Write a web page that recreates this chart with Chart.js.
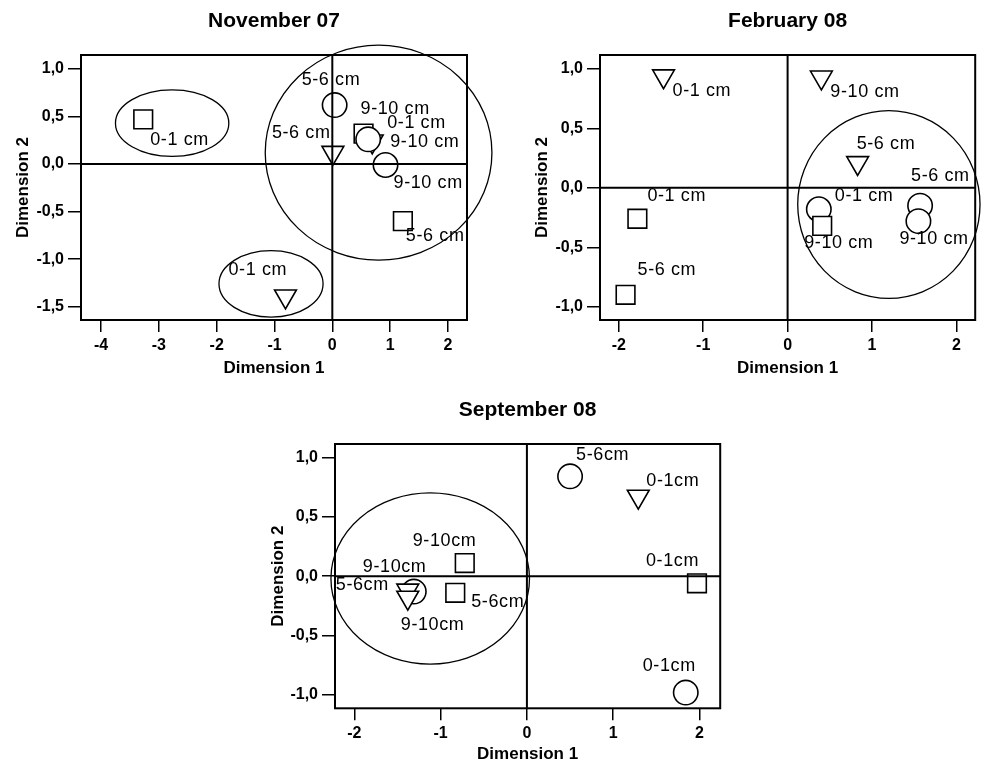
<!DOCTYPE html>
<html>
<head>
<meta charset="utf-8">
<title>Dimension plots</title>
<script src="https://cdn.jsdelivr.net/npm/chart.js@4.4.1/dist/chart.umd.min.js"></script>
<style>
  body { margin: 0; background: #FFF; width: 990px; height: 765px; overflow: hidden; position: relative; }
  canvas { position: absolute; }
</style>
</head>
<body>
<canvas id="chartNov" width="505" height="385" style="left:0;top:0"></canvas>
<canvas id="chartFeb" width="480" height="385" style="left:510px;top:0"></canvas>
<canvas id="chartSep" width="480" height="375" style="left:255px;top:390px"></canvas>
<script>
// ---- November 07 ----
const novSquareX = [-3.27, 0.54, 1.22];
const novSquareY = [0.47, 0.32, -0.60];
const novSquareLabels = ['0-1 cm', '9-10 cm', '5-6 cm'];
const novCircleX = [0.04, 0.62, 0.92];
const novCircleY = [0.62, 0.26, -0.01];
const novCircleLabels = ['5-6 cm', '0-1 cm', '9-10 cm'];
const novTriangleX = [-0.81, 0.01, 0.69];
const novTriangleY = [-1.39, 0.12, 0.24];
const novTriangleLabels = ['0-1 cm', '5-6 cm', '9-10 cm'];
const novEllipses = [[0.80, 0.12, 1.96, 1.13], [-2.77, 0.43, 0.98, 0.35], [-1.06, -1.26, 0.90, 0.35]];
const novXTicks = [-4, -3, -2, -1, 0, 1, 2];
const novYTicks = [-1.5, -1.0, -0.5, 0.0, 0.5, 1.0];

// ---- February 08 ----
const febSquareX = [-1.78, -1.92, 0.41];
const febSquareY = [-0.26, -0.90, -0.32];
const febSquareLabels = ['0-1 cm', '5-6 cm', '9-10 cm'];
const febCircleX = [0.37, 1.57, 1.55];
const febCircleY = [-0.18, -0.15, -0.28];
const febCircleLabels = ['0-1 cm', '5-6 cm', '9-10 cm'];
const febTriangleX = [-1.47, 0.40, 0.83];
const febTriangleY = [0.94, 0.93, 0.21];
const febTriangleLabels = ['0-1 cm', '9-10 cm', '5-6 cm'];
const febEllipses = [[1.20, -0.14, 1.08, 0.79]];
const febXTicks = [-2, -1, 0, 1, 2];
const febYTicks = [-1.0, -0.5, 0.0, 0.5, 1.0];

// ---- September 08 ----
const sepSquareX = [1.97, -0.72, -0.83];
const sepSquareY = [-0.06, 0.11, -0.14];
const sepSquareLabels = ['0-1cm', '9-10cm', '5-6cm'];
const sepCircleX = [0.50, 1.84, -1.31];
const sepCircleY = [0.84, -0.98, -0.13];
const sepCircleLabels = ['5-6cm', '0-1cm', '9-10cm'];
const sepTriangleX = [1.29, -1.38, -1.38];
const sepTriangleY = [0.67, -0.12, -0.18];
const sepTriangleLabels = ['0-1cm', '5-6cm', '9-10cm'];
const sepEllipses = [[-1.12, -0.02, 1.15, 0.72]];
const sepXTicks = [-2, -1, 0, 1, 2];
const sepYTicks = [-1.0, -0.5, 0.0, 0.5, 1.0];

Chart.defaults.font.family = 'Arial, "Liberation Sans", Helvetica, sans-serif';
Chart.defaults.color = '#000';

// desenha elipses, linhas do zero, moldura e rótulos dos pontos
const decorPlugin = {
    id: 'decor',
    afterDatasetsDraw(chart, args, opts) {
        const { ctx, chartArea } = chart;
        const xs = chart.scales.x;
        const ys = chart.scales.y;
        ctx.save();
        ctx.strokeStyle = '#000';

        ctx.lineWidth = 1.3;
        opts.ellipses.forEach(e => {
            const cx = xs.getPixelForValue(e[0]);
            const cy = ys.getPixelForValue(e[1]);
            const rx = Math.abs(xs.getPixelForValue(e[0] + e[2]) - cx);
            const ry = Math.abs(ys.getPixelForValue(e[1] + e[3]) - cy);
            ctx.beginPath();
            ctx.ellipse(cx, cy, rx, ry, 0, 0, Math.PI * 2);
            ctx.stroke();
        });

        ctx.lineWidth = 2;
        const x0 = xs.getPixelForValue(0);
        const y0 = ys.getPixelForValue(0);
        ctx.beginPath();
        ctx.moveTo(x0, chartArea.top);
        ctx.lineTo(x0, chartArea.bottom);
        ctx.moveTo(chartArea.left, y0);
        ctx.lineTo(chartArea.right, y0);
        ctx.stroke();
        ctx.strokeRect(chartArea.left, chartArea.top, chartArea.width, chartArea.height);

        ctx.font = '18px Arial, "Liberation Sans", sans-serif';
        ctx.letterSpacing = '0.6px';
        ctx.fillStyle = '#000';
        ctx.textAlign = 'left';
        ctx.textBaseline = 'middle';
        chart.data.datasets.forEach((ds, i) => {
            const meta = chart.getDatasetMeta(i);
            const offs = opts.labelOffsets[ds.series];
            meta.data.forEach((pt, j) => {
                ctx.fillText(ds.pointLabels[j], pt.x + offs[j][0], pt.y + offs[j][1]);
            });
        });
        ctx.restore();
    }
};

function serie(name, xs, ys, labels, order) {
    const estilos = {
        square: { style: 'rect', radius: 13.2, rotation: 0 },
        circle: { style: 'circle', radius: 12.2, rotation: 0 },
        triangle: { style: 'triangle', radius: 12.6, rotation: 180 }
    };
    const e = estilos[name];
    return {
        series: name,
        data: xs.map((x, i) => ({ x: x, y: ys[i] })),
        pointLabels: labels,
        pointStyle: e.style,
        pointRadius: e.radius,
        pointHoverRadius: e.radius,
        pointRotation: e.rotation,
        backgroundColor: '#FFF',
        borderColor: '#000',
        borderWidth: 1.6,
        order: order
    };
}

function graphic(idCanvas, titulo, datasets, cfg) {
    const config = {
        type: 'scatter',
        data: { datasets: datasets },
        plugins: [decorPlugin],
        options: {
            responsive: false,
            animation: false,
            events: [],
            layout: { padding: { left: 0, right: cfg.padRight, top: 0, bottom: 0 } },
            scales: {
                x: {
                    type: 'linear',
                    min: cfg.xRange[0],
                    max: cfg.xRange[1],
                    afterBuildTicks: axis => { axis.ticks = cfg.xTicks.map(v => ({ value: v })); },
                    afterFit: axis => { axis.height = cfg.xAxisH; },
                    grid: { display: true, drawOnChartArea: false, drawTicks: true, tickLength: 12, color: '#000', lineWidth: 1.5 },
                    border: { display: false },
                    ticks: {
                        color: '#000',
                        padding: 4,
                        maxRotation: 0,
                        autoSkip: false,
                        font: { size: 16, weight: 'bold' },
                        callback: v => String(v)
                    },
                    title: {
                        display: true,
                        text: 'Dimension 1',
                        color: '#000',
                        font: { size: 17, weight: 'bold' },
                        padding: { top: 0, bottom: cfg.xTitlePad }
                    }
                },
                y: {
                    type: 'linear',
                    min: cfg.yRange[0],
                    max: cfg.yRange[1],
                    afterBuildTicks: axis => { axis.ticks = cfg.yTicks.map(v => ({ value: v })); },
                    afterFit: axis => { axis.width = cfg.yAxisW; },
                    grid: { display: true, drawOnChartArea: false, drawTicks: true, tickLength: 13, color: '#000', lineWidth: 1.5 },
                    border: { display: false },
                    ticks: {
                        color: '#000',
                        padding: 4,
                        autoSkip: false,
                        font: { size: 16, weight: 'bold' },
                        callback: v => Number(v).toFixed(1).replace('.', ',')
                    },
                    title: {
                        display: true,
                        text: 'Dimension 2',
                        color: '#000',
                        font: { size: 17, weight: 'bold' },
                        padding: { top: cfg.yTitlePad, bottom: 0 }
                    }
                }
            },
            plugins: {
                legend: { display: false },
                tooltip: { enabled: false },
                title: {
                    display: true,
                    text: titulo,
                    color: '#000',
                    fullSize: false,
                    font: { size: 21, weight: 'bold' },
                    padding: { top: cfg.titlePadTop, bottom: cfg.titlePadBottom }
                },
                decor: {
                    ellipses: cfg.ellipses,
                    labelOffsets: cfg.labelOffsets
                }
            }
        }
    };

    new Chart(document.getElementById(idCanvas), config);
}

graphic('chartNov', 'November 07', [
    serie('circle', novCircleX, novCircleY, novCircleLabels, 0),
    serie('square', novSquareX, novSquareY, novSquareLabels, 1),
    serie('triangle', novTriangleX, novTriangleY, novTriangleLabels, 2)
], {
    xRange: [-4.346, 2.329], yRange: [-1.64, 1.147],
    xTicks: novXTicks, yTicks: novYTicks,
    padRight: 38, yAxisW: 81, xAxisH: 65,
    xTitlePad: 6.8, yTitlePad: 12.8,
    titlePadTop: 8.7, titlePadBottom: 21.1,
    ellipses: novEllipses,
    labelOffsets: {
        square: [[7, 21], [-3, -25], [3, 15]],
        circle: [[-33, -25], [19, -16], [8, 18]],
        triangle: [[-57, -26], [-61, -20], [18, 1]]
    }
});

graphic('chartFeb', 'February 08', [
    serie('square', febSquareX, febSquareY, febSquareLabels, 0),
    serie('circle', febCircleX, febCircleY, febCircleLabels, 1),
    serie('triangle', febTriangleX, febTriangleY, febTriangleLabels, 2)
], {
    xRange: [-2.223, 2.223], yRange: [-1.112, 1.118],
    xTicks: febXTicks, yTicks: febYTicks,
    padRight: 5, yAxisW: 90, xAxisH: 65,
    xTitlePad: 6.8, yTitlePad: 21.8,
    titlePadTop: 8.7, titlePadBottom: 21.1,
    ellipses: febEllipses,
    labelOffsets: {
        square: [[10, -23], [12, -25], [-18, 17]],
        circle: [[16, -13], [-9, -30], [-19, 18]],
        triangle: [[9, 15], [9, 15], [-1, -18.5]]
    }
});

graphic('chartSep', 'September 08', [
    serie('triangle', sepTriangleX, sepTriangleY, sepTriangleLabels, 0),
    serie('square', sepSquareX, sepSquareY, sepSquareLabels, 1),
    serie('circle', sepCircleX, sepCircleY, sepCircleLabels, 2)
], {
    xRange: [-2.223, 2.239], yRange: [-1.112, 1.112],
    xTicks: sepXTicks, yTicks: sepYTicks,
    padRight: 13.3, yAxisW: 80, xAxisH: 56.7,
    xTitlePad: 0, yTitlePad: 13.1,
    titlePadTop: 7.4, titlePadBottom: 21.4,
    ellipses: sepEllipses,
    labelOffsets: {
        square: [[-51, -22], [-52, -22], [16, 9]],
        circle: [[6, -21], [-43, -27], [-51, -25]],
        triangle: [[8, -15], [-72, -5], [-7, 27]]
    }
});
</script>
</body>
</html>
